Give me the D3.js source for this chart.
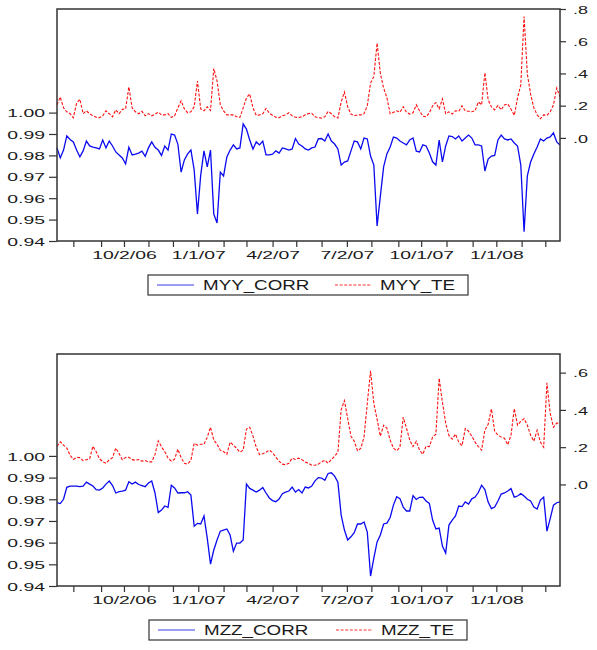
<!DOCTYPE html>
<html><head><meta charset="utf-8">
<script src="https://cdn.jsdelivr.net/npm/d3@7"></script>
<style>
body{margin:0;background:#fff}
svg{display:block}
text{font-family:"Liberation Sans",Arial,sans-serif;fill:#1a1a1a}
</style>
</head><body>
<svg id="c" width="597" height="650"></svg>
<script>
// ---- data ----
const startDate = "2006-07-12";
const endDate = "2008-03-19";
const stepDays = 4; // observation spacing (calendar days)

const myyCorr = [
0.9835,0.9788,0.9825,0.9891,0.9874,0.9863,0.9825,0.9793,0.9821,0.9867,
0.9844,0.9839,0.9835,0.9830,0.9872,0.9835,0.9867,0.9844,0.9816,0.9802,
0.9788,0.9760,0.9838,0.9802,0.9806,0.9811,0.9820,0.9796,0.9835,0.9863,
0.9838,0.9825,0.9800,0.9844,0.9825,0.9900,0.9895,0.9853,0.9722,0.9779,
0.9807,0.9825,0.9732,0.9526,0.9708,0.9821,0.9746,0.9825,0.9526,0.9484,
0.9722,0.9704,0.9793,0.9825,0.9849,0.9830,0.9835,0.9947,0.9923,0.9872,
0.9830,0.9863,0.9849,0.9867,0.9802,0.9802,0.9806,0.9821,0.9811,0.9835,
0.9830,0.9825,0.9830,0.9879,0.9853,0.9844,0.9830,0.9825,0.9835,0.9839,
0.9877,0.9879,0.9867,0.9900,0.9867,0.9853,0.9830,0.9755,0.9769,0.9774,
0.9821,0.9867,0.9863,0.9830,0.9881,0.9877,0.9797,0.9755,0.9470,0.9610,
0.9746,0.9807,0.9839,0.9886,0.9881,0.9867,0.9858,0.9849,0.9872,0.9881,
0.9820,0.9816,0.9849,0.9844,0.9811,0.9770,0.9755,0.9872,0.9770,0.9844,
0.9891,0.9888,0.9877,0.9891,0.9867,0.9881,0.9895,0.9881,0.9849,0.9849,
0.9844,0.9727,0.9783,0.9797,0.9800,0.9872,0.9895,0.9877,0.9872,0.9877,
0.9858,0.9844,0.9755,0.9443,0.9704,0.9769,0.9807,0.9839,0.9877,0.9867,
0.9881,0.9886,0.9905,0.9863,0.9849];

const myyTe = [
0.205,0.254,0.186,0.162,0.150,0.125,0.215,0.240,0.150,0.168,
0.150,0.137,0.128,0.125,0.137,0.168,0.150,0.131,0.174,0.150,
0.177,0.180,0.316,0.186,0.162,0.150,0.165,0.137,0.151,0.137,
0.146,0.160,0.143,0.143,0.151,0.127,0.137,0.186,0.230,0.180,
0.156,0.162,0.193,0.353,0.180,0.168,0.193,0.170,0.431,0.353,
0.205,0.168,0.143,0.143,0.143,0.131,0.127,0.186,0.248,0.273,
0.186,0.140,0.143,0.150,0.183,0.153,0.140,0.128,0.125,0.137,
0.143,0.156,0.137,0.128,0.127,0.131,0.143,0.151,0.153,0.131,
0.125,0.123,0.131,0.164,0.150,0.131,0.123,0.223,0.285,0.193,
0.148,0.137,0.143,0.143,0.150,0.200,0.340,0.380,0.588,0.400,
0.310,0.250,0.150,0.159,0.168,0.159,0.193,0.158,0.148,0.156,
0.205,0.168,0.134,0.131,0.156,0.199,0.219,0.180,0.242,0.150,
0.162,0.148,0.168,0.165,0.199,0.168,0.165,0.162,0.168,0.223,
0.205,0.404,0.236,0.193,0.174,0.202,0.174,0.205,0.211,0.178,
0.140,0.248,0.330,0.753,0.396,0.273,0.186,0.143,0.119,0.143,
0.140,0.162,0.205,0.310,0.254];

const mzzCorr = [
0.9784,0.9780,0.9800,0.9855,0.9861,0.9861,0.9861,0.9858,0.9861,0.9879,
0.9870,0.9861,0.9844,0.9842,0.9852,0.9870,0.9884,0.9863,0.9829,0.9835,
0.9838,0.9842,0.9881,0.9870,0.9879,0.9868,0.9863,0.9858,0.9875,0.9884,
0.9829,0.9739,0.9750,0.9769,0.9763,0.9865,0.9852,0.9829,0.9830,0.9830,
0.9835,0.9819,0.9676,0.9689,0.9686,0.9723,0.9621,0.9501,0.9566,0.9612,
0.9653,0.9658,0.9663,0.9635,0.9560,0.9598,0.9598,0.9612,0.9870,0.9850,
0.9842,0.9833,0.9842,0.9854,0.9829,0.9806,0.9794,0.9789,0.9801,0.9826,
0.9833,0.9838,0.9856,0.9833,0.9845,0.9829,0.9856,0.9852,0.9861,0.9885,
0.9900,0.9898,0.9888,0.9919,0.9922,0.9907,0.9879,0.9727,0.9658,0.9612,
0.9627,0.9646,0.9686,0.9686,0.9695,0.9649,0.9446,0.9529,0.9603,0.9635,
0.9686,0.9690,0.9716,0.9773,0.9812,0.9803,0.9764,0.9746,0.9746,0.9817,
0.9799,0.9809,0.9810,0.9792,0.9781,0.9704,0.9663,0.9667,0.9584,0.9552,
0.9681,0.9704,0.9723,0.9769,0.9766,0.9788,0.9778,0.9802,0.9810,0.9831,
0.9865,0.9845,0.9787,0.9757,0.9764,0.9792,0.9824,0.9829,0.9838,0.9849,
0.9810,0.9815,0.9826,0.9815,0.9800,0.9792,0.9764,0.9755,0.9796,0.9810,
0.9653,0.9711,0.9773,0.9784,0.9788];

const mzzTe = [
0.205,0.229,0.211,0.195,0.157,0.134,0.145,0.144,0.128,0.133,
0.138,0.205,0.176,0.138,0.122,0.114,0.133,0.144,0.195,0.166,
0.133,0.145,0.146,0.133,0.130,0.134,0.125,0.128,0.121,0.121,
0.160,0.234,0.202,0.175,0.141,0.125,0.136,0.189,0.144,0.114,
0.109,0.130,0.221,0.211,0.216,0.216,0.254,0.307,0.238,0.216,
0.184,0.176,0.162,0.227,0.211,0.193,0.173,0.184,0.297,0.307,
0.259,0.200,0.160,0.165,0.173,0.184,0.171,0.146,0.125,0.109,
0.106,0.114,0.141,0.134,0.141,0.133,0.120,0.113,0.103,0.103,
0.109,0.121,0.130,0.114,0.133,0.152,0.173,0.400,0.450,0.354,
0.259,0.232,0.181,0.193,0.254,0.436,0.610,0.436,0.350,0.259,
0.318,0.302,0.238,0.195,0.181,0.200,0.361,0.302,0.238,0.203,
0.232,0.184,0.162,0.205,0.203,0.254,0.270,0.570,0.441,0.329,
0.262,0.243,0.270,0.227,0.208,0.300,0.286,0.259,0.227,0.203,
0.184,0.291,0.323,0.405,0.286,0.264,0.254,0.248,0.213,0.264,
0.407,0.318,0.339,0.353,0.318,0.264,0.232,0.291,0.227,0.200,
0.545,0.382,0.307,0.329,0.329];

const monthTicks = ["2006-08-01","2006-09-04","2006-10-02","2006-11-01","2006-12-01",
  "2007-01-01","2007-02-01","2007-03-01","2007-04-02","2007-05-01","2007-06-01",
  "2007-07-02","2007-08-01","2007-09-03","2007-10-01","2007-11-01","2007-12-03",
  "2008-01-01","2008-02-01","2008-03-01"];
const labeledTicks = ["2006-10-02","2007-01-01","2007-04-02","2007-07-02","2007-10-01","2008-01-01"];
const tickLabels = ["10/2/06","1/1/07","4/2/07","7/2/07","10/1/07","1/1/08"];
const leftTicks = [0.94,0.95,0.96,0.97,0.98,0.99,1.00];
const rightTicksTop = [0,0.2,0.4,0.6,0.8];
const rightTicksBottom = [0,0.2,0.4,0.6];

// ---- drawing ----
const parse = d3.utcParse("%Y-%m-%d");
const fmt = d3.utcFormat("%Y-%m-%d");
const t0 = parse(startDate);
const svg = d3.select("#c");
const SX = 1.67;   // horizontal stretch of tick labels
const LSX = 1.36;  // horizontal stretch of legend labels
const labelMap = new Map(labeledTicks.map((d,i)=>[d,tickLabels[i]]));

const x = d3.scaleUtc().domain([t0, parse(endDate)]).range([57, 560]);

function stretch(sel, f){
  sel.each(function(){
    const w = this.getComputedTextLength();
    if (w > 0) d3.select(this).attr("textLength", w*f).attr("lengthAdjust","spacingAndGlyphs");
  });
}

function panel(o){
  const yL = d3.scaleLinear().domain(o.leftDomain).range([o.bottom, o.top]);
  const yR = d3.scaleLinear().domain(o.rightDomain).range([o.bottom, o.top]);
  const g = svg.append("g");
  const corr = o.corr.map((v,i)=>({d:d3.utcDay.offset(t0, i*stepDays), v}));
  const te = o.te.map((v,i)=>({d:d3.utcDay.offset(t0, i*stepDays), v}));

  // bottom axis
  const ax = g.append("g").attr("transform",`translate(0,${o.bottom})`)
    .call(d3.axisBottom(x).tickValues(monthTicks.map(parse)).tickSize(6)
      .tickFormat(d=>labelMap.get(fmt(d))||""));
  ax.select(".domain").remove();
  ax.selectAll("line").attr("stroke","#333").attr("stroke-width",1.2);
  ax.selectAll("text").attr("y",18).attr("dy",0).attr("font-size","11.6px").attr("fill","#1a1a1a");
  stretch(ax.selectAll("text"), SX);

  // left axis
  const al = g.append("g").attr("transform","translate(57,0)")
    .call(d3.axisLeft(yL).tickValues(leftTicks).tickSize(8).tickFormat(d3.format(".2f")));
  al.select(".domain").remove();
  al.selectAll("line").attr("stroke","#333").attr("stroke-width",1.2);
  al.selectAll("text").attr("font-size","11.6px").attr("x",-12).attr("dy","0.36em").attr("fill","#1a1a1a");
  stretch(al.selectAll("text"), SX);

  // right axis
  const ar = g.append("g").attr("transform","translate(560,0)")
    .call(d3.axisRight(yR).tickValues(o.rightTicks).tickSize(6)
      .tickFormat(d=>d3.format(".1f")(d).replace(/^0/,"")));
  ar.select(".domain").remove();
  ar.selectAll("line").attr("stroke","#333").attr("stroke-width",1.2);
  ar.selectAll("text").attr("font-size","11.6px").attr("x",13).attr("dy","0.36em").attr("fill","#1a1a1a");
  stretch(ar.selectAll("text"), 1.55);

  // series
  g.append("path").datum(te)
    .attr("d", d3.line().x(d=>x(d.d)).y(d=>yR(d.v)))
    .attr("fill","none").attr("stroke","#ff1010").attr("stroke-width",1.1)
    .attr("stroke-dasharray","3,1.6");
  g.append("path").datum(corr)
    .attr("d", d3.line().x(d=>x(d.d)).y(d=>yL(d.v)))
    .attr("fill","none").attr("stroke","#0a0af0").attr("stroke-width",1.3);

  // frame
  g.append("rect").attr("x",57).attr("y",o.top).attr("width",503).attr("height",o.bottom-o.top)
    .attr("fill","none").attr("stroke","#333").attr("stroke-width",1.5);

  // legend
  const L = o.legend;
  const lg = g.append("g");
  lg.append("rect").attr("x",L.x).attr("y",L.y).attr("width",L.w).attr("height",20)
    .attr("fill","none").attr("stroke","#333").attr("stroke-width",1.2);
  const cy = L.y + 10;
  lg.append("line").attr("x1",L.x+9).attr("x2",L.x+46).attr("y1",cy).attr("y2",cy)
    .attr("stroke","#3a3ae8").attr("stroke-width",1);
  lg.append("text").attr("x",L.x+55).attr("y",cy+5.3)
    .attr("font-size","13.8px").text(o.names[0]);
  lg.append("line").attr("x1",L.x+187).attr("x2",L.x+224).attr("y1",cy).attr("y2",cy)
    .attr("stroke","#ff3030").attr("stroke-width",1).attr("stroke-dasharray","3,1.6");
  lg.append("text").attr("x",L.x+232).attr("y",cy+5.3)
    .attr("font-size","13.8px").text(o.names[1]);
  stretch(lg.selectAll("text"), LSX);
}

panel({top:9, bottom:241, leftDomain:[0.94,1.0484], rightDomain:[-0.64,0.80],
  rightTicks:rightTicksTop, corr:myyCorr, te:myyTe, names:["MYY_CORR","MYY_TE"],
  legend:{x:148,y:275,w:320}});
panel({top:354, bottom:586, leftDomain:[0.94,1.047], rightDomain:[-0.545,0.70],
  rightTicks:rightTicksBottom, corr:mzzCorr, te:mzzTe, names:["MZZ_CORR","MZZ_TE"],
  legend:{x:149,y:620,w:318}});
</script>
</body></html>
